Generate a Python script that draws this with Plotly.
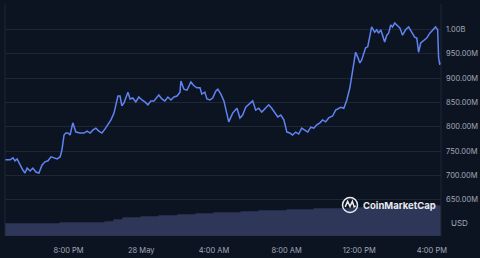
import pandas as pd
import plotly.graph_objects as go

# ---- data ----
start_time = "2024-05-27 16:30"
minutes = [0,17,26,33,40,50,59,66,73,83,92,102,112,122,132,142,152,162,172,182,
           188,195,201,208,215,224,234,248,261,271,281,290,300,310,320,330,340,350,360,366,
           373,380,386,393,399,406,413,422,432,442,452,462,472,482,492,502,508,518,528,538,
           548,558,568,578,581,591,601,614,624,634,644,650,660,667,677,686,696,703,713,723,
           733,739,752,766,776,785,795,805,818,828,838,848,861,871,881,891,901,911,921,931,
           941,950,960,970,980,990,1000,1010,1020,1030,1040,1049,1059,1069,1082,1092,1102,1109,1119,1129,
           1139,1145,1152,1158,1165,1172,1178,1185,1191,1198,1205,1211,1221,1228,1234,1241,1247,1254,1261,1267,
           1274,1280,1287,1294,1304,1313,1323,1333,1343,1353,1360,1366,1373,1383,1393,1403,1412,1422,1429,1432,
           1436,1439]
price_m = [732,732,736,730,734,721,711,705,715,709,715,707,705,721,728,730,738,736,734,738,
           752,783,787,787,783,808,789,787,787,791,787,793,797,791,787,795,804,814,828,845,
           863,863,843,849,861,871,857,859,851,861,855,851,845,853,853,861,865,857,853,861,
           855,861,863,871,894,877,875,892,884,880,880,867,871,857,855,859,873,877,867,853,
           828,810,828,838,818,824,840,845,853,834,838,830,838,845,838,828,820,824,814,789,
           787,783,789,785,797,793,789,799,797,804,808,814,810,818,822,834,838,840,838,855,
           880,906,933,953,943,931,937,951,962,964,984,1005,994,999,992,999,988,974,988,992,
           1009,1005,1013,1009,1003,988,999,1005,994,984,982,953,972,978,982,992,999,1005,999,943,
           927,933]
assert len(minutes) == len(price_m), (len(minutes), len(price_m))

# volume bars, one per 30 minutes (relative heights)
volume = [12,12,12,12.5,12.5,12.5,13,13,13,13.5,13.5,14,16,18,18.5,19,19.5,20,20.5,21,
          21.5,22,22.5,23,23.5,23.5,24,24.5,25,25,25.5,26,26,26.5,27,27,27.5,27.5,28,28,
          28.5,28.5,29,29,29,29.5,29.5,30]

y_ticks = [650, 700, 750, 800, 850, 900, 950, 1000, 1050]
y_labels = ["650.00M", "700.00M", "750.00M", "800.00M", "850.00M", "900.00M", "950.00M", "1.00B", ""]
x_ticks = ["2024-05-27 20:00", "2024-05-28 00:00", "2024-05-28 04:00",
           "2024-05-28 08:00", "2024-05-28 12:00", "2024-05-28 16:00"]
x_labels = ["8:00 PM", "28 May", "4:00 AM", "8:00 AM", "12:00 PM", "4:00 PM"]

t0 = pd.Timestamp(start_time)
times = [t0 + pd.Timedelta(minutes=m) for m in minutes]
vol_times = [t0 + pd.Timedelta(minutes=30 * i + 15) for i in range(len(volume))]

BG = "#0d1421"
GRID = "#1f2634"
TXT = "#a1a7bb"
WHITE = "#e8eaf0"

# logo geometry in paper coords
cx, cy, rx, ry = 0.7913, 0.1336, 0.0172, 0.0323
logo_path = (f"M {cx-0.011},{cy-0.008} L {cx-0.0055},{cy+0.016} L {cx},{cy-0.006} "
             f"L {cx+0.0055},{cy+0.016} L {cx+0.0095},{cy-0.008} L {cx+0.013},{cy-0.004}")

fig = go.Figure()
fig.add_trace(go.Bar(x=vol_times, y=volume, yaxis="y2", width=30 * 60 * 1000,
                     marker=dict(color="#2f3759", line=dict(width=0.6, color="#343d63")),
                     hoverinfo="skip"))
fig.add_trace(go.Scatter(x=times, y=price_m, mode="lines",
                         line=dict(color="#5f83f2", width=1.5)))

fig.update_layout(
    width=480, height=258,
    margin=dict(l=5, r=39, t=4, b=22),
    paper_bgcolor=BG, plot_bgcolor=BG,
    showlegend=False, bargap=0,
    font=dict(family="Inter", size=7.5, color=TXT),
    xaxis=dict(range=[t0, t0 + pd.Timedelta(minutes=1440)], tickvals=x_ticks, ticktext=x_labels,
               showgrid=False, zeroline=False, showline=False, ticks="", automargin=False,
               ticklabelstandoff=8, tickfont=dict(size=7.5, color=TXT)),
    yaxis=dict(side="right", range=[575.6, 1052], tickvals=y_ticks, ticktext=y_labels,
               showgrid=True, gridcolor=GRID, gridwidth=1, zeroline=False, ticks="",
               automargin=False, ticklabelstandoff=4, tickfont=dict(size=7.5, color=TXT)),
    yaxis2=dict(overlaying="y", range=[0, 232], visible=False),
    shapes=[
        dict(type="line", xref="paper", yref="paper", x0=0, x1=0, y0=0, y1=1,
             line=dict(color=GRID, width=1)),
        dict(type="line", xref="paper", yref="paper", x0=1, x1=1, y0=0, y1=1,
             line=dict(color=GRID, width=1)),
        dict(type="circle", xref="paper", yref="paper", x0=cx-rx, x1=cx+rx, y0=cy-ry, y1=cy+ry,
             line=dict(color=WHITE, width=1.5)),
        dict(type="path", xref="paper", yref="paper", path=logo_path,
             line=dict(color=WHITE, width=1.5)),
    ],
    annotations=[
        dict(text="USD", xref="paper", yref="y", x=1, y=602, xanchor="left", showarrow=False,
             xshift=8, font=dict(size=8, color=TXT)),
        dict(text="<b>CoinMarketCap</b>", xref="paper", yref="paper", x=0.816, y=cy,
             xanchor="left", yanchor="middle", showarrow=False,
             font=dict(size=9.5, color=WHITE, family="Inter")),
    ],
)

fig.write_html("out.html")
